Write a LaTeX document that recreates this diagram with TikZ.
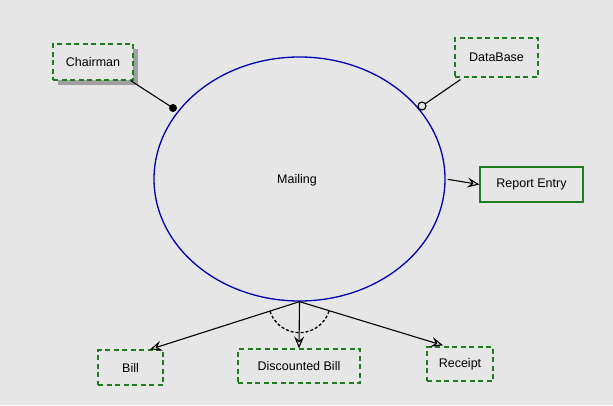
\documentclass[tikz,border=0pt]{standalone}
\usepackage{fontspec}
\setmainfont{Liberation Sans}
\usetikzlibrary{shapes.geometric,arrows.meta,shadows,calc}
\definecolor{bg}{HTML}{E6E6E6}
\definecolor{boxgreen}{HTML}{1E7D1E}
\definecolor{ellblue}{HTML}{0000B4}
\definecolor{shadowgray}{HTML}{A0A0A0}
\begin{document}
\begin{tikzpicture}[x=1pt,y=1pt,
  font=\fontsize{12.5}{15}\selectfont,
  dbox/.style={draw=boxgreen, line width=1.2pt, dash pattern=on 5pt off 3.5pt, fill=bg, inner sep=0pt},
  sbox/.style={draw=boxgreen, line width=1.2pt, fill=bg, inner sep=0pt},
  conn/.style={line width=1.1pt, black},
  arr/.style={conn, -{Stealth[open, length=12pt, width=10pt, inset=4.5pt]}},
  dotnode/.style={circle, inner sep=0pt, minimum size=8pt, line width=1.1pt}
]
\fill[bg] (0,0) rectangle (613,405);
\useasboundingbox (0,0) rectangle (613,405);

\node[ellipse, draw=ellblue, line width=1.3pt, minimum width=291pt, minimum height=244pt, inner sep=0pt] (mail) at (299.5,226) {};
\node (mailtxt) at (297,225) {Mailing};

\node[dbox, minimum width=80pt, minimum height=36pt,
  drop shadow={shadow xshift=5pt, shadow yshift=-5pt, fill=shadowgray, opacity=1}] (ch) at (93,343) {Chairman};
\node[dbox, minimum width=83pt, minimum height=39pt] (db) at (496.5,347.5) {DataBase};
\node[sbox, minimum width=103pt, minimum height=35pt] (re) at (531.5,220.5) {Report Entry};
\node[dbox, minimum width=65pt, minimum height=35pt] (bill) at (130.5,37.5) {Bill};
\node[dbox, minimum width=122pt, minimum height=34pt] (dbill) at (299,39) {Discounted Bill};
\node[dbox, minimum width=66pt, minimum height=34pt] (rc) at (460,41) {Receipt};

\coordinate (p1) at (173,297);
\coordinate (p2) at (422,299);
\draw[conn] ($(ch.south east)+(-3,0)$) -- (p1) node[dotnode, fill=black] (dot1) {};
\draw[conn] ($(db.south west)+(6,-2)$) -- (p2) node[dotnode, draw=black, fill=bg] (dot2) {};

\draw[arr, shorten <=2pt] (mail.east) -- (re.west);
\draw[arr] (mail.south) -- ($(bill.north)+(19.5,0)$);
\draw[arr] (mail.south) -- (dbill.north);
\draw[arr] (mail.south) -- ($(rc.north)+(-17,1)$);

\draw[line width=1.3pt, dash pattern=on 3pt off 2pt] ($(mail.south)+(198:31)$) arc[start angle=198, end angle=343, radius=31];
\end{tikzpicture}
\end{document}
